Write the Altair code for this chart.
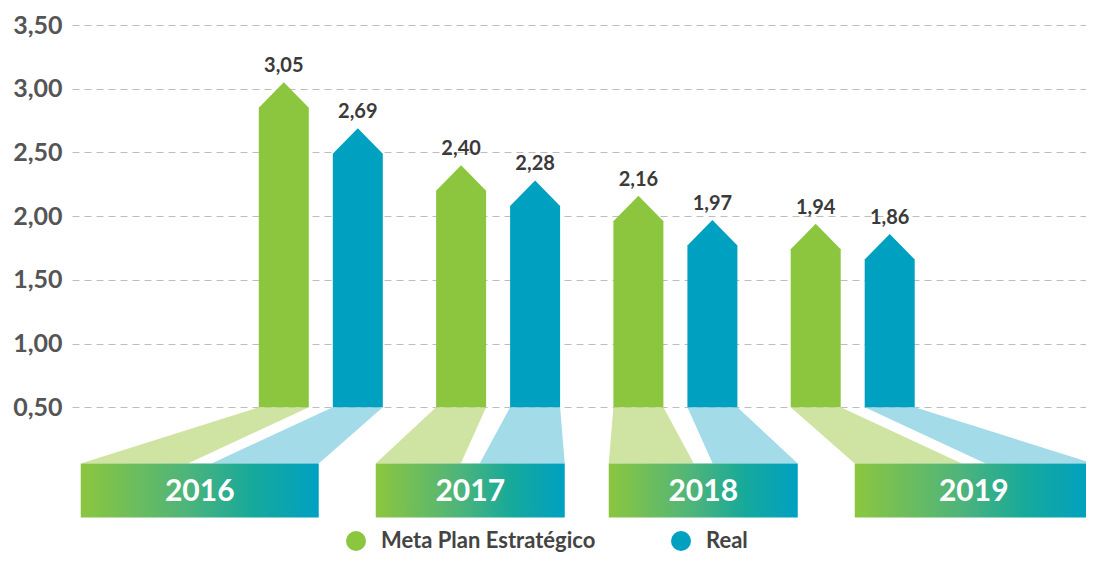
import altair as alt
import pandas as pd

# ---------------- data ----------------
YEARS = ["2016", "2017", "2018", "2019"]
META = [3.05, 2.40, 2.16, 1.94]
REAL = [2.69, 2.28, 1.97, 1.86]
SERIES = ["Meta Plan Estratégico", "Real"]
Y_TICKS = [0.5, 1.0, 1.5, 2.0, 2.5, 3.0, 3.5]

# ---------------- layout / style ----------------
GREEN, BLUE = "#8CC63F", "#00A0C1"
LIGHT_GREEN, LIGHT_BLUE = "#CFE3A3", "#A3DBE8"
FONT = "Lato"
PLOT_W = 1014
X_DOMAIN = [-514.75, -514.75 + PLOT_W]   # horizontal layout units (centre of the graphic = 0)
Y_DOMAIN = [-0.4, 3.5]
GROUP_STEP = 177.3
BAR_OFFSET = 37
BAR_HALF = 25
HEAD = 0.2
BASE = 0.5
FUNNEL_BOTTOM = 0.06
BOX_BOTTOM = -0.365
BOX_SPANS = {0.5: (22, 211), 1.5: (268, 506)}
SPLIT = 0.45

arrow_rows, funnel_rows, label_rows, box_rows = [], [], [], []
for i, yr in enumerate(YEARS):
    side = i - 1.5
    gc = side * GROUP_STEP
    inner, outer = BOX_SPANS[abs(side)]
    if side < 0:
        bl, br = -outer, -inner
    else:
        bl, br = inner, outer
    w = br - bl
    box_rows.append({"year": yr, "x": bl, "x2": br, "xc": (bl + br) / 2,
                     "y": FUNNEL_BOTTOM, "y2": BOX_BOTTOM,
                     "yc": (FUNNEL_BOTTOM + BOX_BOTTOM) / 2})
    for s, vals, off, bot in [
        (SERIES[0], META, -BAR_OFFSET, (bl, bl + SPLIT * w)),
        (SERIES[1], REAL, BAR_OFFSET, (br - SPLIT * w, br)),
    ]:
        c = gc + off
        L, R = c - BAR_HALF, c + BAR_HALF
        v = vals[i]
        bid = f"{yr}-{s}"
        arrow_rows += [
            {"id": bid, "series": s, "y": BASE, "xl": L, "xr": R},
            {"id": bid, "series": s, "y": v - HEAD, "xl": L, "xr": R},
            {"id": bid, "series": s, "y": v, "xl": c, "xr": c},
        ]
        funnel_rows += [
            {"id": bid, "series": s, "y": FUNNEL_BOTTOM, "xl": bot[0], "xr": bot[1]},
            {"id": bid, "series": s, "y": BASE, "xl": L, "xr": R},
        ]
        label_rows.append({"series": s, "x": c, "value": v})

arrows = pd.DataFrame(arrow_rows)
funnels = pd.DataFrame(funnel_rows)
labels = pd.DataFrame(label_rows)
boxes = pd.DataFrame(box_rows)

xs = alt.Scale(domain=X_DOMAIN, nice=False, zero=False)
ys = alt.Scale(domain=Y_DOMAIN, nice=False, zero=False)
y_axis = alt.Axis(
    values=Y_TICKS, labelExpr="replace(format(datum.value, '.2f'), '.', ',')",
    title=None, domain=False, ticks=False, labelPadding=10,
    labelFont=FONT, labelFontWeight="bold", labelFontSize=25, labelColor="#555555",
    grid=True, gridColor="#BDBDBD", gridDash=[7, 5], gridWidth=1,
)

funnel_layer = alt.Chart(funnels).mark_area(orient="horizontal", opacity=1).encode(
    y=alt.Y("y:Q", scale=ys, axis=y_axis),
    x=alt.X("xl:Q", scale=xs, axis=None),
    x2="xr:Q",
    detail="id:N",
    color=alt.Color("series:N", scale=alt.Scale(domain=SERIES, range=[LIGHT_GREEN, LIGHT_BLUE]), legend=None),
)

gradient = alt.LinearGradient(
    gradient="linear",
    stops=[
        alt.GradientStop(color="#8CC63F", offset=0),
        alt.GradientStop(color="#4DB47B", offset=0.45),
        alt.GradientStop(color="#16A99B", offset=0.72),
        alt.GradientStop(color="#00A0C3", offset=1),
    ],
    x1=0, x2=1, y1=0, y2=0,
)
box_layer = alt.Chart(boxes).mark_rect(color=gradient).encode(
    x=alt.X("x:Q", scale=xs, axis=None), x2="x2:Q",
    y=alt.Y("y:Q", scale=ys, axis=y_axis), y2="y2:Q",
)
year_layer = alt.Chart(boxes).mark_text(
    font=FONT, fontWeight="bold", fontSize=30, color="white", baseline="middle", dy=2
).encode(
    x=alt.X("xc:Q", scale=xs, axis=None),
    y=alt.Y("yc:Q", scale=ys, axis=y_axis),
    text="year:N",
)

arrow_layer = alt.Chart(arrows).mark_area(orient="horizontal", opacity=1).encode(
    y=alt.Y("y:Q", scale=ys, axis=y_axis),
    x=alt.X("xl:Q", scale=xs, axis=None),
    x2="xr:Q",
    detail="id:N",
    color=alt.Color(
        "series:N", scale=alt.Scale(domain=SERIES, range=[GREEN, BLUE]),
        legend=alt.Legend(
            title=None, orient="none", legendX=273, legendY=505, direction="horizontal",
            symbolType="circle", symbolSize=400, symbolStrokeWidth=0, symbolOpacity=1,
            labelFont=FONT, labelFontWeight="bold", labelFontSize=22, labelColor="#444444",
            labelLimit=1000, labelOffset=14, columnPadding=74, padding=0,
        ),
    ),
)

value_layer = alt.Chart(labels).transform_calculate(
    txt="replace(format(datum.value, '.2f'), '.', ',')"
).mark_text(
    font=FONT, fontWeight="bold", fontSize=20, color="#3A3A3A", baseline="bottom", dy=-6
).encode(
    x=alt.X("x:Q", scale=xs, axis=None),
    y=alt.Y("value:Q", scale=ys, axis=y_axis),
    text="txt:N",
)

chart = alt.layer(
    funnel_layer, box_layer, year_layer, arrow_layer, value_layer
).resolve_scale(color="independent").properties(
    width=PLOT_W, height=497,
    autosize=alt.AutoSizeParams(type="none"),
    padding={"left": 64, "top": 17, "right": 0, "bottom": 35},
).configure_view(stroke=None)

chart.save("out.html", embed_options={"renderer": "svg", "actions": False})
